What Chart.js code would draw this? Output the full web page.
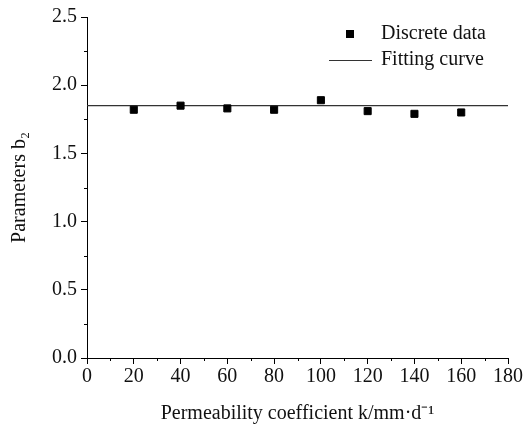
<!DOCTYPE html>
<html>
<head>
<meta charset="utf-8">
<script src="https://cdn.jsdelivr.net/npm/chart.js@4/dist/chart.umd.min.js"></script>
<style>
  html, body { margin: 0; padding: 0; background: #fff; }
  #wrap { width: 525px; height: 426px; }
</style>
</head>
<body>
<div id="wrap"><canvas id="c"></canvas></div>
<script>
// data
const kValues = [20, 40, 60, 80, 100, 120, 140, 160];
const b2Values = [1.82, 1.85, 1.83, 1.82, 1.89, 1.81, 1.79, 1.80];
const fitX = [0, 180];
const fitY = [1.85, 1.85];
const legendLabels = ['Discrete data', 'Fitting curve'];

const FONT = '"Liberation Serif", "Times New Roman", serif';

// minor ticks halfway between the major ones
const minorTicks = {
  id: 'minorTicks',
  afterDraw(chart) {
    const ctx = chart.ctx;
    const x = chart.scales.x, y = chart.scales.y;
    ctx.save();
    ctx.strokeStyle = '#000';
    ctx.lineWidth = 1;
    ctx.beginPath();
    for (let v = 10; v < 180; v += 20) {
      const px = Math.round(x.getPixelForValue(v)) + 0.5;
      ctx.moveTo(px, y.bottom);
      ctx.lineTo(px, y.bottom + 3);
    }
    for (let v = 0.25; v < 2.5; v += 0.5) {
      const py = Math.round(y.getPixelForValue(v)) + 0.5;
      ctx.moveTo(x.left, py);
      ctx.lineTo(x.left - 3, py);
    }
    ctx.stroke();
    ctx.restore();
  }
};

// legend inside the plot, top right
const innerLegend = {
  id: 'innerLegend',
  afterDraw(chart) {
    const ctx = chart.ctx;
    ctx.save();
    ctx.fillStyle = '#000';
    ctx.fillRect(346, 30, 8, 8);
    ctx.strokeStyle = '#333';
    ctx.lineWidth = 1.2;
    ctx.beginPath();
    ctx.moveTo(329, 60.5);
    ctx.lineTo(372, 60.5);
    ctx.stroke();
    ctx.font = '20px ' + FONT;
    ctx.textBaseline = 'middle';
    ctx.fillStyle = '#111';
    ctx.fillText(legendLabels[0], 381, 34);
    ctx.fillText(legendLabels[1], 381, 60);
    ctx.restore();
  }
};

new Chart(document.getElementById('c').getContext('2d'), {
  type: 'scatter',
  data: {
    datasets: [
      {
        label: legendLabels[0],
        data: kValues.map((k, i) => ({ x: k, y: b2Values[i] })),
        pointStyle: 'rect',
        pointRadius: 5,
        pointBorderWidth: 1,
        backgroundColor: '#000',
        borderColor: '#000'
      },
      {
        label: legendLabels[1],
        type: 'line',
        data: fitX.map((x, i) => ({ x, y: fitY[i] })),
        borderColor: '#333',
        borderWidth: 1.2,
        pointRadius: 0,
        fill: false
      }
    ]
  },
  options: {
    responsive: true,
    maintainAspectRatio: false,
    animation: false,
    layout: { padding: { left: 0, right: 17, top: 17, bottom: 0 } },
    plugins: { legend: { display: false }, tooltip: { enabled: false } },
    scales: {
      x: {
        type: 'linear',
        min: 0, max: 180,
        ticks: { stepSize: 20, color: '#111', padding: 1, font: { family: FONT, size: 20 } },
        grid: { drawOnChartArea: false, tickLength: 6, color: '#000' },
        border: { color: '#000', width: 1 },
        title: {
          display: true,
          text: 'Permeability coefficient k/mm·d⁻¹',
          color: '#111',
          font: { family: FONT, size: 20 },
          padding: { top: 3, bottom: 0 }
        },
        afterFit(scale) { scale.height = 68; }
      },
      y: {
        min: 0, max: 2.5,
        ticks: {
          stepSize: 0.5, color: '#111', padding: 4,
          font: { family: FONT, size: 20 },
          callback: v => v.toFixed(1)
        },
        grid: { drawOnChartArea: false, tickLength: 6, color: '#000' },
        border: { color: '#000', width: 1 },
        title: {
          display: true,
          text: 'Parameters b₂',
          color: '#111',
          font: { family: FONT, size: 20 },
          padding: { top: 8, bottom: 6 }
        },
        afterFit(scale) { scale.width = 87; }
      }
    }
  },
  plugins: [minorTicks, innerLegend]
});
</script>
</body>
</html>
